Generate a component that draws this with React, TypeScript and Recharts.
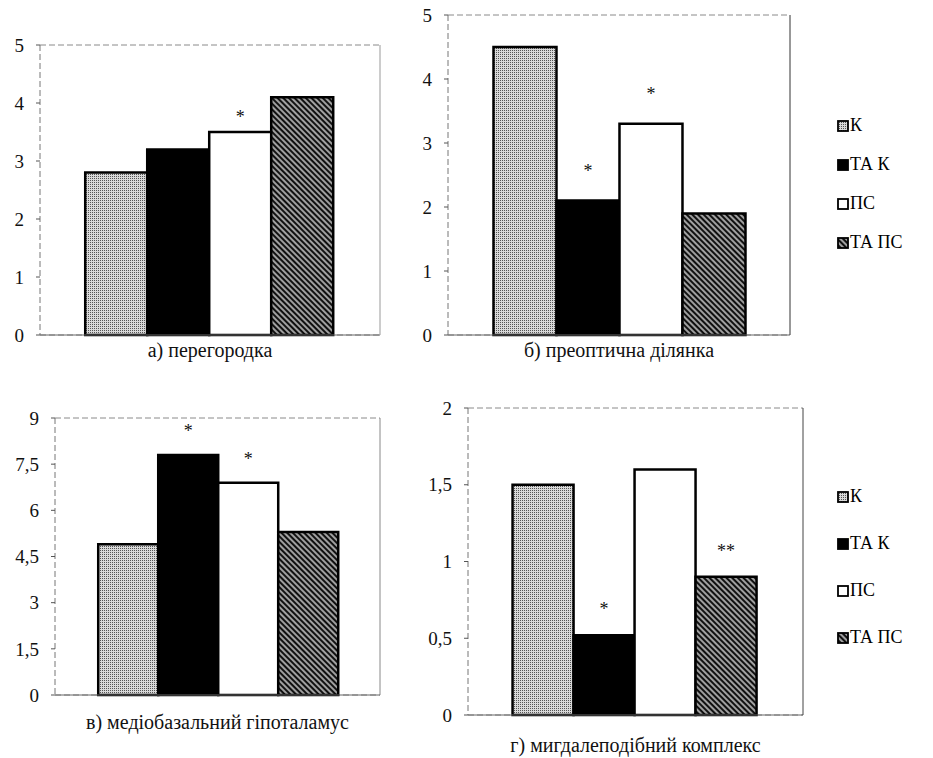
import { BarChart, Bar, XAxis, YAxis, CartesianGrid, LabelList, Legend } from "recharts";

const groups = ["К", "ТА К", "ПС", "ТА ПС"];

// а) перегородка
const septumName = "а) перегородка";
const septumValues = [2.8, 3.2, 3.5, 4.1];
const septumStars = ["", "", "*", ""];
const septumTicks = [0, 1, 2, 3, 4, 5];

// б) преоптична ділянка
const preopticName = "б) преоптична ділянка";
const preopticValues = [4.5, 2.1, 3.3, 1.9];
const preopticStars = ["", "*", "*", ""];
const preopticTicks = [0, 1, 2, 3, 4, 5];

// в) медіобазальний гіпоталамус
const mbhName = "в) медіобазальний гіпоталамус";
const mbhValues = [4.9, 7.8, 6.9, 5.3];
const mbhStars = ["", "*", "*", ""];
const mbhTicks = [0, 1.5, 3, 4.5, 6, 7.5, 9];

// г) мигдалеподібний комплекс
const amygName = "г) мигдалеподібний комплекс";
const amygValues = [1.5, 0.52, 1.6, 0.9];
const amygStars = ["", "*", "", "**"];
const amygTicks = [0, 0.5, 1, 1.5, 2];

const FONT = "Liberation Serif";

function fills(p: string) {
  return [`url(#${p}-dots)`, "#000", "#fff", `url(#${p}-hatch)`];
}

function Patterns({ p }: { p: string }) {
  return (
    <defs>
      <pattern id={`${p}-dots`} width="2" height="2" patternUnits="userSpaceOnUse">
        <rect width="2" height="2" fill="#d9d9d9" />
        <rect width="1" height="1" fill="#555" />
      </pattern>
      <pattern id={`${p}-hatch`} width="4" height="4" patternUnits="userSpaceOnUse" patternTransform="rotate(-45)">
        <rect width="4" height="4" fill="#111" />
        <line x1="1" y1="0" x2="1" y2="4" stroke="#fff" strokeWidth="1.2" />
      </pattern>
    </defs>
  );
}

function LegendBox({ p, rowH }: { p: string; rowH: number }) {
  const f = fills(p);
  return (
    <div style={{ fontFamily: FONT, fontSize: 18, color: "#000" }}>
      {groups.map((g, i) => (
        <div key={g} style={{ height: rowH, display: "flex", alignItems: "center" }}>
          <svg width="12" height="12" style={{ marginRight: 1 }}>
            <rect x="1" y="1" width="10" height="10" fill={f[i]} stroke="#000" strokeWidth="1.8" />
          </svg>
          <span>{g}</span>
        </div>
      ))}
    </div>
  );
}

const fmt = (v: number) => String(v).replace(".", ",");

interface PanelProps {
  p: string;
  name: string;
  values: number[];
  stars: string[];
  ticks: number[];
  width: number;
  height: number;
  margin: { top: number; right: number; bottom: number; left: number };
  yWidth: number;
  captionMargin: number;
  starOffset: number;
  rightStroke: string;
  legend?: { left: number; top: number; rowH: number };
}

function Panel(props: PanelProps) {
  const { p, name, values, stars, ticks, width, height, margin, yWidth, captionMargin, starOffset, rightStroke, legend } = props;
  const row: Record<string, string | number> = { name };
  values.forEach((v, i) => {
    row[`v${i}`] = v;
    row[`s${i}`] = stars[i];
  });
  const f = fills(p);
  const max = ticks[ticks.length - 1];
  return (
    <BarChart
      width={width}
      height={height}
      data={[row]}
      margin={margin}
      barCategoryGap="13.3%"
      barGap={0}
      style={{ fontFamily: FONT }}
    >
      <Patterns p={p} />
      <CartesianGrid vertical={false} stroke="#8a8a8a" strokeDasharray="6 3" />
      <XAxis
        dataKey="name"
        tickLine={false}
        axisLine={{ stroke: "#666" }}
        tickMargin={captionMargin}
        tick={{ fill: "#111", fontSize: 20, fontFamily: FONT }}
        height={30}
      />
      <YAxis
        yAxisId="l"
        domain={[0, max]}
        ticks={ticks}
        tickFormatter={fmt}
        width={yWidth}
        tickSize={4}
        tickMargin={12}
        interval={0}
        axisLine={{ stroke: "#777", strokeDasharray: "6 3" }}
        tickLine={{ stroke: "#555" }}
        tick={{ fill: "#111", fontSize: 19, fontFamily: FONT }}
      />
      <YAxis yAxisId="r" orientation="right" width={2} tick={false} tickLine={false} axisLine={{ stroke: rightStroke }} />
      {groups.map((g, i) => (
        <Bar
          key={g}
          yAxisId="l"
          dataKey={`v${i}`}
          name={g}
          fill={f[i]}
          stroke="#000"
          strokeWidth={2.5}
          isAnimationActive={false}
        >
          <LabelList
            dataKey={`s${i}`}
            position="top"
            offset={starOffset}
            style={{ fill: "#111", fontSize: 18, fontFamily: FONT }}
          />
        </Bar>
      ))}
      {legend && (
        <Legend
          layout="vertical"
          align="center"
          verticalAlign="middle"
          wrapperStyle={{ left: legend.left, top: legend.top, width: 90 }}
          content={() => <LegendBox p={p} rowH={legend.rowH} />}
        />
      )}
    </BarChart>
  );
}

export default function App() {
  return (
    <div style={{ position: "absolute", left: 0, top: 0, width: 933, height: 758, background: "#fff", fontFamily: FONT }}>
      <div style={{ position: "absolute", left: 0, top: 0 }}>
        <Panel
          p="a" name={septumName} values={septumValues} stars={septumStars} ticks={septumTicks}
          width={385} height={370} margin={{ top: 45, right: 3, bottom: 5, left: 10 }} yWidth={30}
          captionMargin={2} starOffset={9} rightStroke="#999"
        />
      </div>
      <div style={{ position: "absolute", left: 400, top: 0 }}>
        <Panel
          p="b" name={preopticName} values={preopticValues} stars={preopticStars} ticks={preopticTicks}
          width={533} height={370} margin={{ top: 15, right: 141, bottom: 5, left: 18 }} yWidth={30}
          captionMargin={2} starOffset={24} rightStroke="#333"
          legend={{ left: 437, top: 106, rowH: 39 }}
        />
      </div>
      <div style={{ position: "absolute", left: 0, top: 380 }}>
        <Panel
          p="c" name={mbhName} values={mbhValues} stars={mbhStars} ticks={mbhTicks}
          width={385} height={370} margin={{ top: 38, right: 3, bottom: 25, left: 15 }} yWidth={40}
          captionMargin={14} starOffset={18} rightStroke="#888"
        />
      </div>
      <div style={{ position: "absolute", left: 400, top: 380 }}>
        <Panel
          p="d" name={amygName} values={amygValues} stars={amygStars} ticks={amygTicks}
          width={533} height={378} margin={{ top: 28, right: 128, bottom: 13, left: 28 }} yWidth={40}
          captionMargin={17} starOffset={20} rightStroke="#444"
          legend={{ left: 437, top: 93, rowH: 47 }}
        />
      </div>
    </div>
  );
}
